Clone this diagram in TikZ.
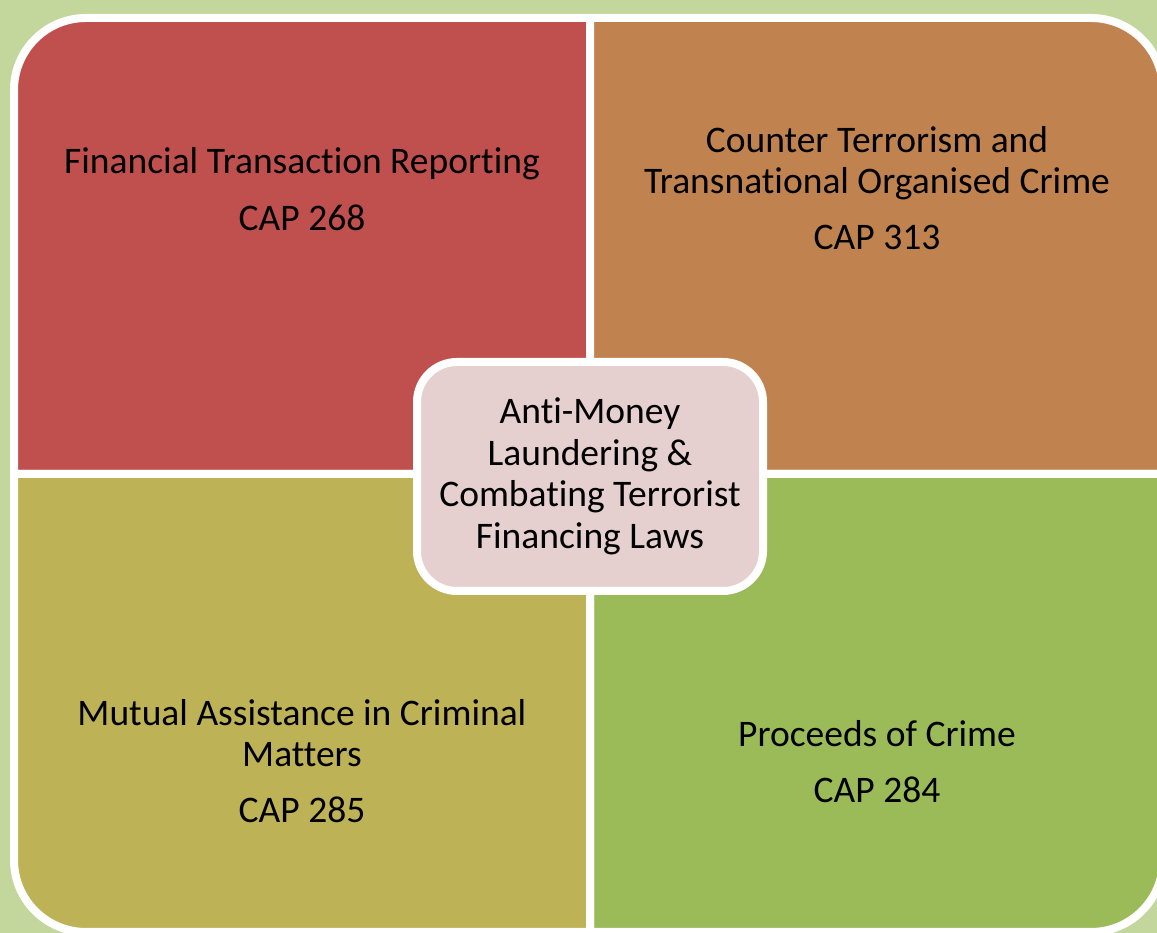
\documentclass[tikz,border=0pt]{standalone}
\usepackage{fontspec}
\setmainfont{Carlito}[Ligatures=NoCommon]
\usetikzlibrary{shadows}

\definecolor{bggreen}{HTML}{C3D69B}
\definecolor{quadred}{HTML}{C0504D}
\definecolor{quadbrown}{HTML}{C08350}
\definecolor{quadolive}{HTML}{BEB256}
\definecolor{quadgreen}{HTML}{9BBB59}
\definecolor{hubpink}{HTML}{E6CFCF}

\begin{document}
\begin{tikzpicture}[x=1pt,y=1pt]
\tikzstyle{quad}=[draw=white, line width=8pt, line join=round]
\tikzstyle{label}=[align=center, font=\fontsize{37.5}{40.5}\selectfont, inner sep=0pt]
\tikzstyle{hub}=[rectangle, rounded corners=40pt, draw=white, line width=8pt, fill=hubpink,
  minimum width=346pt, minimum height=229pt, align=center, inner sep=0pt,
  font=\fontsize{37.5}{41.5}\selectfont,
  drop shadow={opacity=0.3, shadow xshift=2pt, shadow yshift=-4pt}]
\useasboundingbox (0,0) rectangle (1157,933);
\clip (0,0) rectangle (1157,933);
\fill [bggreen] (0,0) rectangle (1157,933);
% four quadrants
\draw [quad, fill=quadred] (590,459) -- (14,459) -- (14,843) arc[start angle=180, end angle=90, radius=72] -- (590,915) -- cycle;
\draw [quad, fill=quadbrown] (590,459) -- (590,915) -- (1091,915) arc[start angle=90, end angle=0, radius=72] -- (1163,459) -- cycle;
\draw [quad, fill=quadgreen] (590,459) -- (1163,459) -- (1163,73) arc[start angle=0, end angle=-90, radius=72] -- (590,1) -- cycle;
\draw [quad, fill=quadolive] (590,459) -- (590,1) -- (86,1) arc[start angle=270, end angle=180, radius=72] -- (14,459) -- cycle;
% texts
\node [label] (ftr) at (302,744) {Financial Transaction Reporting\\[16pt]CAP 268};
\node [label] (ctt) at (877,744.5) {Counter Terrorism and\\Transnational Organised Crime\\[16pt]CAP 313};
\node [label] (mac) at (302,171.5) {Mutual Assistance in Criminal\\Matters\\[16pt]CAP 285};
\node [label] (poc) at (877,171.5) {Proceeds of Crime\\[16pt]CAP 284};
% centre
\node [hub] (aml) at (590,456.5) {Anti-Money\\Laundering \&\\Combating Terrorist\\Financing Laws};
\end{tikzpicture}
\end{document}
